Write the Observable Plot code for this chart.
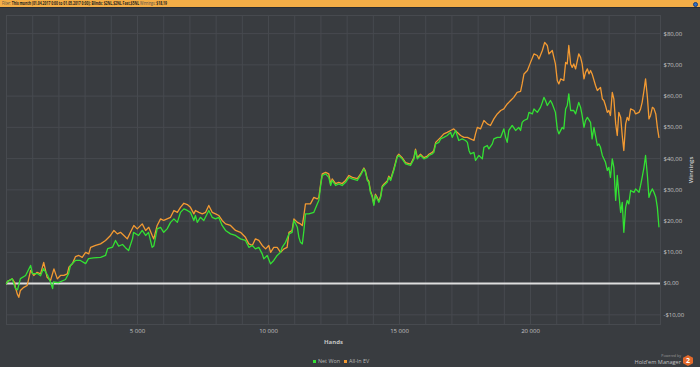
<!DOCTYPE html>
<html><head><meta charset="utf-8">
<script src="https://cdn.jsdelivr.net/npm/d3@7"></script>
<script src="https://cdn.jsdelivr.net/npm/@observablehq/plot@0.6"></script>
<style>
html,body{margin:0;padding:0;background:#393c40;width:700px;height:367px;overflow:hidden;font-family:"Open Sans",sans-serif;}
#header{height:8px;background:#f4ae47;position:relative;border-bottom:1px solid #2b2d30;box-sizing:border-box;}
#header .t{position:absolute;left:2px;top:0px;font-size:4.6px;line-height:7px;color:#1e1e1e;white-space:nowrap;transform-origin:0 50%;}
#header .t span{color:#4a4a4a;}
#header .t b{font-weight:700;}
#header .info{position:absolute;left:693px;top:1.5px;width:5px;height:5px;border-radius:50%;background:#2f6fc4;border:0.5px solid #1c3f7a;box-sizing:border-box;}
#chart svg{display:block;}
#chart [aria-label="x-axis label"] text{font-weight:700;}
#chart [aria-label="y-axis label"] text{font-weight:600;fill:#d0d0d0;}
#legend{position:relative;height:14px;}
#legend .sw{position:absolute;width:3px;height:3px;top:6.5px;}
#legend .lt{position:absolute;top:3.5px;font-size:5.4px;line-height:9px;color:#b8b8b8;white-space:nowrap;}
#logo{position:absolute;right:7px;top:0;width:70px;height:14px;}
#logo .pb{position:absolute;right:12px;top:0px;font-size:3.6px;line-height:5px;color:#9a9a9a;}
#logo .hm{position:absolute;right:12px;top:5px;font-size:5.6px;line-height:8px;color:#c0c0c0;white-space:nowrap;}
#logo .hex{position:absolute;right:0;top:2px;width:10px;height:11px;background:#e2692b;clip-path:polygon(50% 0,100% 25%,100% 75%,50% 100%,0 75%,0 25%);color:#fff;font-weight:700;font-size:7px;line-height:11px;text-align:center;}
</style></head>
<body>
<div id="header"><div class="t" id="htext"><span>Filter:</span> <b>This month (01.04.2017 0:00 to 01.05.2017 0:00); Blinds: $2NL,$2NL Fast,$5NL</b> <span>Winnings:</span> <b>$18,19</b></div><div class="info"></div></div>
<div id="chart"></div>
<div id="legend">
  <div class="sw" style="left:313px;background:#33e033"></div><div class="lt" id="l0" style="left:318px"></div>
  <div class="sw" style="left:344px;background:#f39a32"></div><div class="lt" id="l1" style="left:349px"></div>
  <div id="logo"><div class="pb">Powered by</div><div class="hm">Hold'em Manager</div><div class="hex">2</div></div>
</div>
<script>
// Net Won: [hands, winnings $]
const netWon = [[0,0],[40,0.7],[220,1.5],[340,-1.5],[420,-2],[530,1.6],[730,2.6],[920,5.8],[990,3.2],[1180,3.2],[1300,2.5],[1410,4.8],[1560,2.8],[1680,0.4],[1760,-1.6],[1790,0.5],[1980,0.3],[2250,1.3],[2370,3.2],[2440,5.8],[2630,7.4],[2820,7.4],[3020,6.4],[3130,8],[3320,8.2],[3590,8.4],[3780,9],[3860,11.2],[4050,11.7],[4160,13.8],[4280,12],[4430,12.5],[4540,11.5],[4660,10.6],[4810,14.4],[4850,16.4],[5040,15.4],[5180,17],[5310,15.4],[5420,16.4],[5560,11.6],[5620,12],[5750,17.5],[5880,18],[6000,16.4],[6130,17.5],[6260,19.6],[6390,20.7],[6520,19.6],[6640,22.8],[6770,23.9],[6900,23.4],[7020,22.8],[7150,20.2],[7210,21.8],[7280,19.6],[7400,21.2],[7530,20.2],[7720,23.4],[7850,21.2],[7980,20.7],[8100,21.2],[8230,18.6],[8360,17],[8550,15.9],[8740,15.4],[8930,14.3],[9120,13.8],[9250,11.6],[9380,12.2],[9500,11.1],[9630,11.6],[9760,9.5],[9820,7.9],[9950,9],[10080,6.3],[10200,7.4],[10330,9],[10460,10],[10520,11.6],[10650,13.2],[10780,15.9],[10900,16.4],[10970,20.2],[11100,18],[11160,14.8],[11220,13.2],[11290,12.7],[11350,17],[11410,22.3],[11540,22.3],[11730,22.8],[11860,25.5],[11920,26.6],[11990,31.4],[12050,34.6],[12180,35.1],[12300,34],[12370,31.4],[12430,33],[12560,31.4],[12680,31.9],[12810,31.4],[12940,32.4],[13070,34],[13200,33.5],[13390,33],[13510,34.6],[13640,36.7],[13700,35.6],[13770,33],[13830,32.4],[13890,29.2],[13960,27.6],[14020,25],[14080,28.2],[14150,27.1],[14210,26],[14280,27.6],[14340,30.8],[14400,31.4],[14530,32.4],[14590,34],[14660,33],[14780,36.2],[14910,40.4],[14970,41],[15100,39.9],[15230,38.3],[15420,37.8],[15550,39.9],[15610,42.6],[15680,39.9],[15800,41],[15930,39.9],[16060,40.4],[16120,41],[16250,41.5],[16310,42],[16380,44.7],[16500,45.2],[16570,46.3],[16690,46.8],[16820,47.4],[16950,48.4],[17010,46.8],[17140,49],[17260,45.8],[17390,46.3],[17520,45.8],[17590,45.2],[17650,42.6],[17710,41.5],[17840,42],[17900,39.4],[18030,41],[18160,39.9],[18220,43.6],[18350,44.2],[18410,43.1],[18540,44.7],[18600,46.3],[18730,46.8],[18860,46.8],[18980,49.5],[19050,46.8],[19110,45.2],[19170,49],[19300,50.6],[19430,49],[19550,50],[19620,49],[19680,51.6],[19750,52.2],[19880,52.7],[19940,54.8],[20070,54.3],[20130,55.9],[20260,54.8],[20380,56.4],[20450,58],[20510,59.6],[20570,58.6],[20640,57],[20760,58.6],[20830,57.5],[20950,54.8],[21020,49.5],[21080,47.9],[21210,50],[21270,49.5],[21340,55.9],[21400,57],[21460,60.7],[21530,55.4],[21650,55.4],[21720,54.3],[21840,58],[21910,56.4],[21970,53.8],[22040,50],[22100,52.2],[22170,53.2],[22290,51.6],[22350,46.3],[22420,50],[22550,44.2],[22610,44.7],[22670,43.6],[22740,41],[22860,38.8],[22930,36.2],[22990,37.2],[23050,34],[23120,39.9],[23180,37.2],[23250,26.6],[23310,34.6],[23370,28.7],[23440,22.8],[23500,26],[23560,16.4],[23630,24.4],[23690,26.6],[23750,25.5],[23820,29.8],[23950,29.2],[24010,30.3],[24140,29.2],[24200,31.4],[24260,34],[24330,37.2],[24390,41],[24460,34.6],[24520,27.6],[24580,29.2],[24650,30.3],[24710,29.2],[24780,27.6],[24840,24.4],[24900,18.19]];

// All-In EV: [hands, winnings $]
const allInEV = [[0,0],[40,0.7],[220,1.5],[310,0.3],[340,-1.2],[410,-3.3],[470,-4.4],[530,-2.2],[660,-1.2],[790,-0.6],[920,4.2],[1040,2.6],[1170,3.6],[1300,3.1],[1420,6.8],[1550,2],[1680,1],[1810,4.7],[1940,1.5],[2060,2.6],[2190,2.6],[2320,3.1],[2380,5.2],[2510,6.3],[2630,8.6],[2760,9],[2890,8.4],[3020,10],[3140,9.5],[3210,11.6],[3400,12.2],[3590,12.7],[3780,13.8],[3970,15.4],[4100,17],[4230,15.9],[4350,16.4],[4480,15.4],[4610,14.3],[4730,16.4],[4860,18.6],[4990,17.5],[5180,19.1],[5310,17],[5430,18],[5560,15.4],[5620,14.3],[5750,18.6],[5880,20.7],[6000,20.2],[6130,20.7],[6260,21.2],[6390,23.4],[6520,22.8],[6640,24.4],[6770,25.7],[6900,25.3],[7020,24.4],[7150,22.3],[7210,23.4],[7340,22.8],[7470,22.3],[7600,22.8],[7720,25],[7850,22.8],[7980,22.3],[8100,21.8],[8230,20.2],[8360,19.1],[8550,18.6],[8740,17],[8930,16.4],[9120,14.8],[9250,12.7],[9380,12.2],[9500,14.3],[9630,13.8],[9760,12.2],[9890,11.1],[10010,12.2],[10080,10],[10200,11.6],[10330,11.6],[10460,10],[10590,11.1],[10710,11.6],[10780,16.4],[10900,17],[10970,20.7],[11100,19.6],[11220,19.1],[11290,18.6],[11350,21.8],[11410,25.5],[11600,25.5],[11730,27.6],[11860,27.1],[11920,27.6],[11990,31.9],[12050,35.1],[12180,35.6],[12300,35.1],[12370,31.9],[12430,33.5],[12560,32],[12680,32.4],[12810,32],[12940,33],[13070,34.6],[13200,34],[13390,33.6],[13510,35],[13640,37],[13700,36],[13770,33.4],[13830,32.8],[13890,29.6],[13960,28],[14020,25.4],[14080,28.6],[14150,27.5],[14210,26.4],[14280,28],[14340,31.2],[14400,31.8],[14530,32.8],[14590,34.4],[14660,33.4],[14780,36.6],[14910,40.8],[14970,41.4],[15100,40.3],[15230,38.7],[15420,38.2],[15550,40.3],[15610,43],[15680,40.3],[15800,41.4],[15930,40.3],[16060,40.8],[16120,41.4],[16250,42],[16310,42.6],[16380,45.2],[16570,46.8],[16690,47.9],[16820,48.4],[16950,49],[17070,49.5],[17200,48.4],[17330,47.4],[17460,46.8],[17590,46.8],[17710,46.3],[17840,45.8],[17900,47.9],[17970,50],[18090,49.5],[18220,52.2],[18350,51.1],[18470,50.6],[18600,52.7],[18730,54.3],[18860,55.4],[18980,55.9],[19110,57.5],[19240,58.6],[19360,59.6],[19490,61.2],[19620,61.5],[19680,63.9],[19750,67.1],[19880,68.2],[20000,70.8],[20130,73.5],[20260,73],[20320,71.9],[20450,74.6],[20540,77.2],[20640,76.2],[20700,73.5],[20830,74.6],[20890,72.4],[20950,70.3],[21020,65],[21080,63.9],[21150,65.5],[21270,65],[21340,70.8],[21400,70.3],[21460,76.2],[21530,70.3],[21590,69.2],[21650,70.3],[21720,68.7],[21840,73.5],[21910,72.4],[21970,70.3],[22040,65.5],[22100,67.6],[22170,68.7],[22230,67.1],[22290,68.2],[22350,67.1],[22480,63.4],[22550,61.8],[22670,62.8],[22740,59.1],[22800,58.6],[22860,57],[22930,54.8],[22990,55.4],[23050,53.8],[23120,61.2],[23180,59.1],[23250,51.1],[23310,47.4],[23370,54.8],[23440,53.2],[23500,47.4],[23560,42.6],[23630,51.1],[23690,53.2],[23750,52.2],[23820,55.9],[23950,55.4],[24010,54.3],[24140,54.8],[24200,55.9],[24260,58],[24330,61.8],[24390,65.5],[24460,59.6],[24520,52.7],[24580,53.8],[24650,56.4],[24710,56],[24780,54.3],[24840,50],[24900,46.8]];

const xTickValues = [5000, 10000, 15000, 20000];
const xTickLabels = ["5 000", "10 000", "15 000", "20 000"];
const yTickValues = [-10, 0, 10, 20, 30, 40, 50, 60, 70, 80];
const yTickLabels = ["-$10,00", "$0,00", "$10,00", "$20,00", "$30,00", "$40,00", "$50,00", "$60,00", "$70,00", "$80,00"];
const xGridValues = d3.range(0, 25000, 1000);
const seriesNames = ["Net Won", "All-In EV"];

document.getElementById("l0").textContent = seriesNames[0];
document.getElementById("l1").textContent = seriesNames[1];

const grid = "#474a4f";
const chart = Plot.plot({
  width: 700, height: 345,
  marginLeft: 6, marginRight: 40, marginTop: 7, marginBottom: 29,
  style: {background: "transparent", color: "#c4c4c4", fontSize: "6px", fontFamily: "'Open Sans', sans-serif", overflow: "visible"},
  x: {domain: [0, 24960]},
  y: {domain: [-13.1, 85.8]},
  marks: [
    Plot.gridX(xGridValues, {stroke: grid, strokeOpacity: 1}),
    Plot.gridY(yTickValues, {stroke: grid, strokeOpacity: 1}),
    Plot.frame({stroke: grid}),
    Plot.axisX(xTickValues, {tickSize: 0, tickPadding: 4, tickFormat: d => xTickLabels[xTickValues.indexOf(d)],
      label: "Hands", labelAnchor: "center", labelArrow: "none", labelOffset: 19}),
    Plot.axisY(yTickValues, {anchor: "right", tickSize: 0, tickPadding: 3, tickFormat: d => yTickLabels[yTickValues.indexOf(d)],
      label: "Winnings", labelAnchor: "center", labelArrow: "none", labelOffset: 32}),
    Plot.ruleY([0], {stroke: "#dedede", strokeWidth: 2}),
    Plot.line(allInEV, {x: d => d[0], y: d => d[1], stroke: "#f39a32", strokeWidth: 1.3}),
    Plot.line(netWon, {x: d => d[0], y: d => d[1], stroke: "#33e033", strokeWidth: 1.3})
  ]
});
document.getElementById("chart").appendChild(chart);

const ht = document.getElementById("htext");
const w = ht.getBoundingClientRect().width;
ht.style.transform = `scaleX(${165 / w})`;
</script>
</body></html>
